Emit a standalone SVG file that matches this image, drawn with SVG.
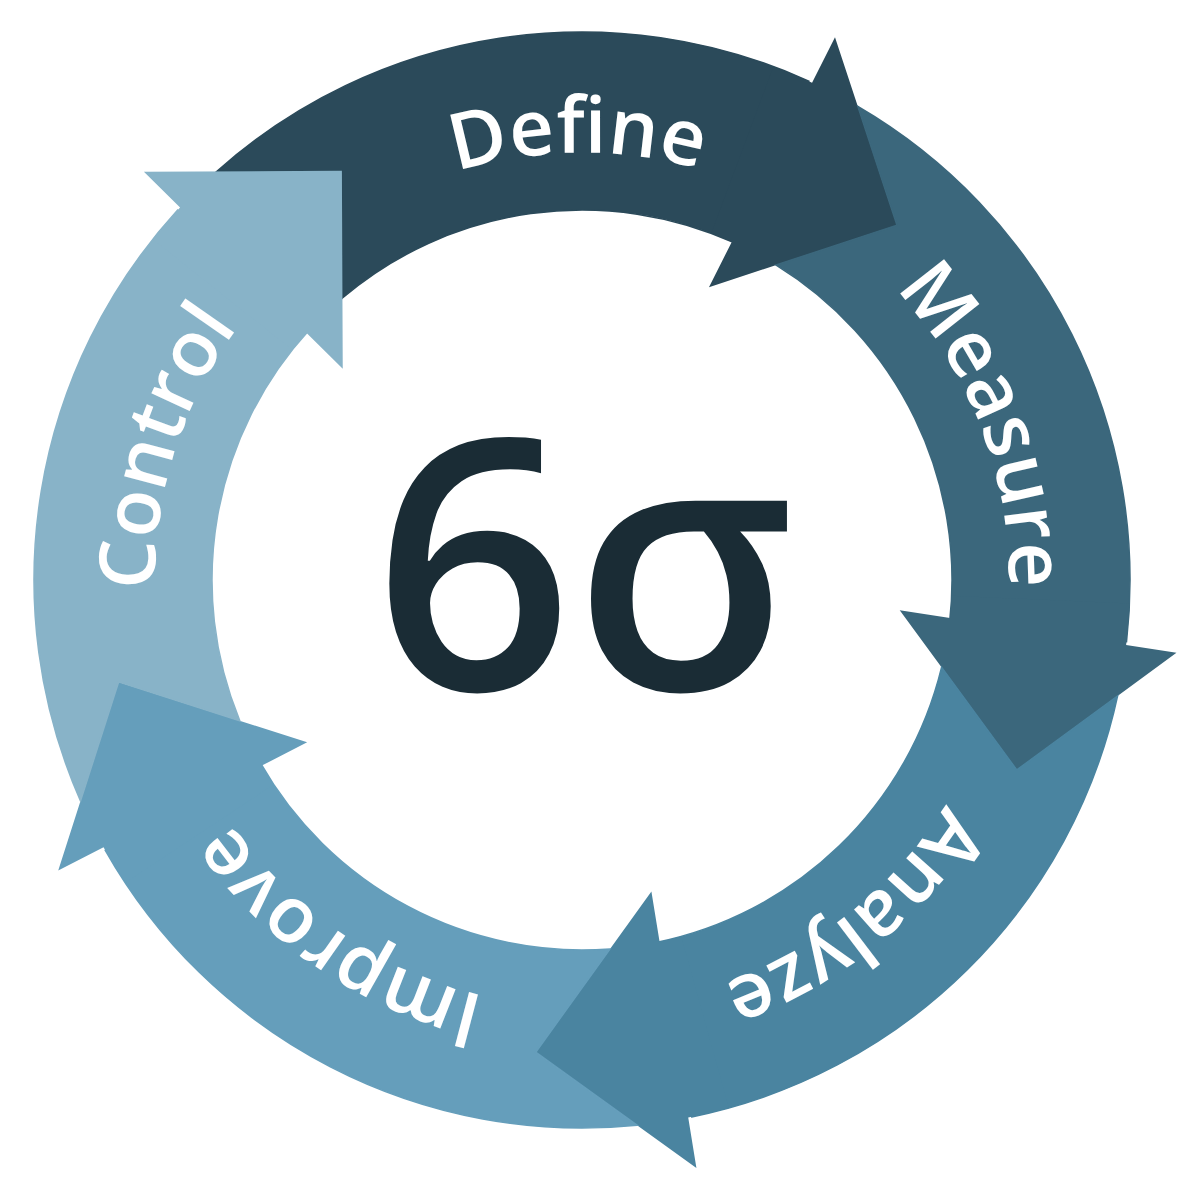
<svg xmlns="http://www.w3.org/2000/svg" width="1200" height="1200" viewBox="0 0 1200 1200">
<defs>
<style>
.lbl{font-family:"Open Sans","Noto Sans","Liberation Sans",sans-serif;font-weight:600;font-size:78px;fill:#ffffff;font-variant-ligatures:common-ligatures}
.sig{font-family:"Open Sans","Noto Sans","Liberation Sans",sans-serif;font-weight:650;font-size:350px;fill:#1a2c35}
.band{stroke-width:1.5}
.head{stroke:none}
</style>
<path id="band" d="M220.93,-501.49 A548,548 0 0 1 548,0 L370,0 A370,370 0 0 0 157.53,-334.78 L273.14,-387.96 Z"/>
<path id="head" d="M546.665,-38.226 A548,548 0 0 1 547.99,3.574 L598.89,5.62 L453.38,139.89 L319.11,-5.62 L369.98,-3.575 A370,370 0 0 0 369.10,-25.81 Z"/>
<path id="lp" d="M994.45,690.52 A427,427 0 1 1 169.55,469.48 A427,427 0 1 1 994.45,690.52"/>
</defs>
<rect width="1200" height="1200" fill="#ffffff"/>
<g id="define">
<g transform="translate(582,580) rotate(294.45)" fill="#2b4a5a" stroke="#2b4a5a"><use href="#band" class="band"/><use href="#head" class="head"/></g>
<text class="lbl"><textPath href="#lp" startOffset="1896" text-anchor="middle">Define</textPath></text>
</g>
<g id="measure">
<g transform="translate(582,580) rotate(6.45)" fill="#3b677c" stroke="#3b677c"><use href="#band" class="band"/><use href="#head" class="head"/></g>
<text class="lbl"><textPath href="#lp" startOffset="2415" text-anchor="middle">Measure</textPath></text>
</g>
<g id="analyze">
<g transform="translate(582,580) rotate(78.45)" fill="#4a84a0" stroke="#4a84a0"><use href="#band" class="band"/><use href="#head" class="head"/></g>
<text class="lbl"><textPath href="#lp" startOffset="270" text-anchor="middle">Analyze</textPath></text>
</g>
<g id="improve">
<g transform="translate(582,580) rotate(150.45)" fill="#659ebb" stroke="#659ebb"><use href="#band" class="band"/><use href="#head" class="head"/></g>
<text class="lbl"><textPath href="#lp" startOffset="814" text-anchor="middle">Improve</textPath></text>
</g>
<g id="control">
<g transform="translate(582,580) rotate(222.45)" fill="#88b3c8" stroke="#88b3c8"><use href="#band" class="band"/><use href="#head" class="head"/></g>
<text class="lbl"><textPath href="#lp" startOffset="1360" text-anchor="middle">Control</textPath></text>
</g>
<g id="center">
<text class="sig" x="584" y="690" text-anchor="middle">6σ</text>
</g>
</svg>
